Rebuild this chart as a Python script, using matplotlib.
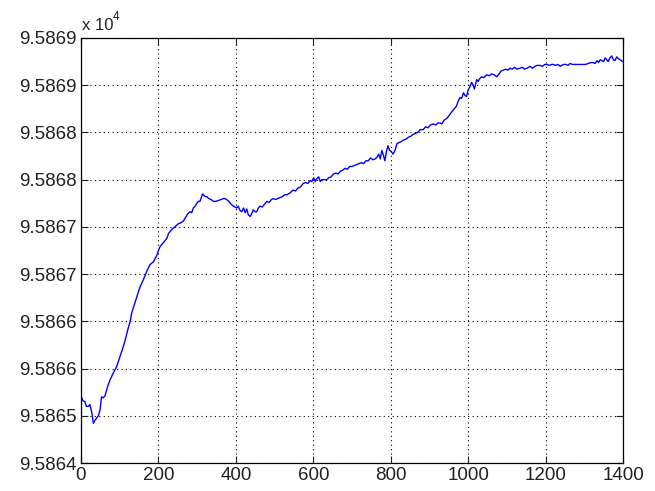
import numpy as np
import matplotlib
matplotlib.use("Agg")
import matplotlib.pyplot as plt

# Sample index vs value
x_vals = [0, 5, 10, 14, 19, 23, 28, 32, 36, 41, 45, 49, 53, 57, 62, 68, 75, 83, 92, 100,
          109, 116, 122, 127, 131, 138, 144, 152, 161, 166, 171, 178, 187, 192, 196, 200,
          204, 210, 216, 222, 226, 230, 236, 243, 250, 256, 260, 264, 270, 276, 282, 286,
          290, 295, 299, 303, 307, 310, 314, 318, 322, 325, 330, 336, 342, 348, 355, 362,
          368, 372, 376, 382, 388, 393, 398, 402, 406, 410, 415, 420, 424, 428, 432, 437,
          441, 445, 450, 454, 458, 462, 468, 474, 480, 486, 492, 497, 503, 508, 514, 520,
          526, 532, 540, 548, 554, 560, 566, 574, 580, 586, 592, 596, 601, 605, 609, 614,
          618, 622, 628, 635, 640, 646, 652, 658, 664, 670, 676, 682, 688, 694, 700, 706,
          712, 718, 724, 730, 736, 742, 748, 754, 760, 765, 769, 773, 777, 781, 785, 789,
          793, 797, 801, 806, 811, 816, 820, 826, 833, 840, 846, 852, 858, 864, 870, 876,
          884, 890, 896, 903, 910, 916, 922, 927, 932, 938, 945, 951, 958, 964, 970, 975,
          979, 983, 988, 992, 996, 1000, 1004, 1009, 1013, 1016, 1018, 1022, 1026, 1030,
          1035, 1040, 1048, 1055, 1061, 1067, 1074, 1080, 1085, 1091, 1097, 1103, 1108,
          1114, 1120, 1126, 1134, 1140, 1146, 1152, 1160, 1166, 1172, 1178, 1186, 1192,
          1198, 1203, 1210, 1216, 1220, 1226, 1232, 1238, 1246, 1252, 1258, 1263, 1270,
          1276, 1283, 1289, 1296, 1303, 1310, 1317, 1323, 1328, 1333, 1337, 1341, 1346,
          1350, 1354, 1358, 1362, 1366, 1371, 1375, 1379, 1384, 1388, 1392, 1396, 1399]

y_vals = [95864.71, 95864.66, 95864.65, 95864.60, 95864.60, 95864.62, 95864.53, 95864.42,
          95864.45, 95864.48, 95864.50, 95864.56, 95864.70, 95864.69, 95864.71, 95864.80,
          95864.88, 95864.95, 95865.02, 95865.12, 95865.23, 95865.33, 95865.43, 95865.50,
          95865.59, 95865.68, 95865.76, 95865.86, 95865.94, 95865.99, 95866.04, 95866.10,
          95866.13, 95866.17, 95866.20, 95866.25, 95866.29, 95866.32, 95866.35, 95866.38,
          95866.43, 95866.45, 95866.48, 95866.50, 95866.53, 95866.54, 95866.55, 95866.56,
          95866.60, 95866.64, 95866.66, 95866.65, 95866.70, 95866.72, 95866.75, 95866.77,
          95866.77, 95866.80, 95866.85, 95866.83, 95866.82, 95866.82, 95866.80, 95866.79,
          95866.77, 95866.77, 95866.78, 95866.79, 95866.80, 95866.80, 95866.79, 95866.77,
          95866.74, 95866.72, 95866.71, 95866.70, 95866.72, 95866.68, 95866.66, 95866.70,
          95866.65, 95866.69, 95866.63, 95866.61, 95866.64, 95866.68, 95866.66, 95866.66,
          95866.70, 95866.72, 95866.71, 95866.74, 95866.77, 95866.76, 95866.79, 95866.80,
          95866.79, 95866.80, 95866.81, 95866.82, 95866.84, 95866.84, 95866.86, 95866.89,
          95866.88, 95866.91, 95866.92, 95866.96, 95866.97, 95866.96, 95866.99, 95866.98,
          95867.02, 95866.98, 95867.01, 95867.03, 95866.98, 95867.00, 95867.00, 95867.00,
          95867.02, 95867.03, 95867.06, 95867.07, 95867.06, 95867.09, 95867.10, 95867.12,
          95867.11, 95867.14, 95867.14, 95867.15, 95867.16, 95867.17, 95867.18, 95867.17,
          95867.20, 95867.20, 95867.23, 95867.21, 95867.22, 95867.24, 95867.27, 95867.22,
          95867.31, 95867.26, 95867.20, 95867.30, 95867.36, 95867.31, 95867.30, 95867.27,
          95867.31, 95867.38, 95867.39, 95867.40, 95867.42, 95867.43, 95867.45, 95867.46,
          95867.48, 95867.49, 95867.50, 95867.53, 95867.53, 95867.56, 95867.55, 95867.58,
          95867.59, 95867.58, 95867.60, 95867.60, 95867.59, 95867.63, 95867.65, 95867.68,
          95867.72, 95867.75, 95867.78, 95867.84, 95867.87, 95867.86, 95867.92, 95867.89,
          95867.88, 95867.95, 95867.98, 95868.03, 95868.00, 95867.96, 95867.99, 95868.06,
          95868.04, 95868.07, 95868.09, 95868.08, 95868.11, 95868.10, 95868.12, 95868.11,
          95868.09, 95868.12, 95868.15, 95868.16, 95868.17, 95868.16, 95868.18, 95868.17,
          95868.19, 95868.17, 95868.18, 95868.19, 95868.17, 95868.18, 95868.20, 95868.18,
          95868.20, 95868.21, 95868.21, 95868.20, 95868.22, 95868.22, 95868.21, 95868.22,
          95868.22, 95868.21, 95868.22, 95868.20, 95868.22, 95868.22, 95868.21, 95868.23,
          95868.22, 95868.22, 95868.22, 95868.22, 95868.22, 95868.22, 95868.23, 95868.24,
          95868.24, 95868.23, 95868.26, 95868.24, 95868.27, 95868.26, 95868.25, 95868.29,
          95868.27, 95868.25, 95868.29, 95868.31, 95868.27, 95868.26, 95868.30, 95868.28,
          95868.27, 95868.26, 95868.25]

# Tick positions and the (rounded) labels shown on the axis
x_ticks = [0, 200, 400, 600, 800, 1000, 1200, 1400]
y_ticks = [95864.0, 95864.5, 95865.0, 95865.5, 95866.0,
           95866.5, 95867.0, 95867.5, 95868.0, 95868.5]
y_labels = ["9.5864", "9.5865", "9.5866", "9.5866", "9.5867",
            "9.5867", "9.5868", "9.5868", "9.5869", "9.5869"]

plt.rcParams["font.family"] = ["Liberation Sans", "DejaVu Sans"]

fig = plt.figure(figsize=(6.55, 4.91), dpi=100)
ax = fig.add_axes([81 / 655, 1 - 463 / 491, 542 / 655, 425 / 491])

ax.plot(x_vals, y_vals, color="#0000ff", linewidth=1.0)

ax.set_xlim(0, 1400)
ax.set_ylim(y_ticks[0], y_ticks[-1])
ax.set_xticks(x_ticks)
ax.set_xticklabels([str(t) for t in x_ticks])
ax.set_yticks(y_ticks)
ax.set_yticklabels(y_labels)

ax.grid(True, linestyle=(0, (1, 3)), color="black", linewidth=0.8)
ax.tick_params(direction="in", length=5, width=0.8, top=True, right=True,
               labelsize=13.5, colors="#222222", pad=3)
for s in ax.spines.values():
    s.set_linewidth(0.9)

# MATLAB style exponent label above the y axis
fig.text(82 / 655, 1 - 26 / 491, "x 10", fontsize=12, va="center", ha="left",
         color="#222222")
fig.text(113 / 655, 1 - 17 / 491, "4", fontsize=8.5, va="center", ha="left",
         color="#222222")

fig.savefig("out.png", dpi=100)
